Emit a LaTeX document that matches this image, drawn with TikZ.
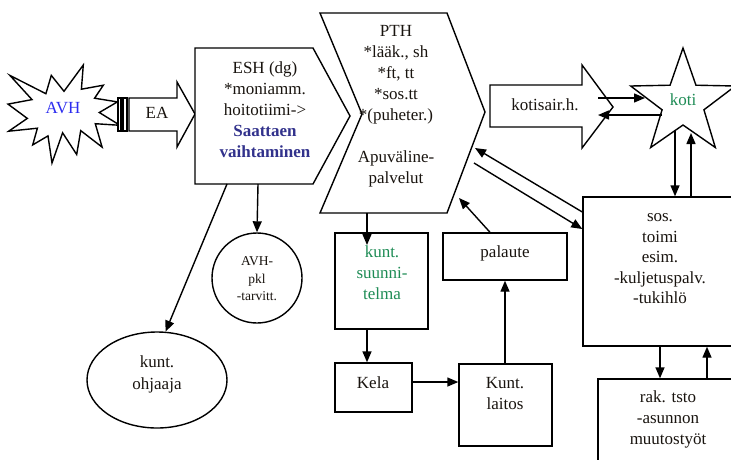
\documentclass[tikz,border=0pt]{standalone}
\usepackage{fontspec}
\setmainfont{Liberation Serif}
\usetikzlibrary{arrows.meta,shapes.geometric}
\definecolor{avhblue}{RGB}{45,45,240}
\definecolor{sblue}{RGB}{50,50,140}
\definecolor{kgreen}{RGB}{30,140,85}
\definecolor{txt}{RGB}{25,20,15}
\begin{document}
\begin{tikzpicture}[x=1pt,y=-1pt,line width=1.4pt,
  arr/.style={-{Triangle[length=11pt,width=9pt]}},
  shp/.style={draw,fill=white,line join=miter},
  box/.style={draw,fill=white,rectangle,inner sep=0pt},
  lbl/.style={text=txt,align=center,font=\fontsize{17}{21}\selectfont,inner sep=0pt},
  small/.style={text=txt,align=center,font=\fontsize{13.5}{17.5}\selectfont,inner sep=0pt}]
\clip (0,0) rectangle (731,459);
\fill[white] (0,0) rectangle (731,459);

% explosion AVH
\draw[shp] (64,91.3) -- (83.3,65) -- (81.4,89.2) -- (103.3,85.2) -- (94.6,98.2) -- (117.4,101.9) -- (99.3,112.5) -- (120,125.3) -- (95.3,123.7) -- (102.1,147.1) -- (80.7,130.6) -- (76.7,154.5) -- (62.6,132.8) -- (52,163) -- (48,135.9) -- (32.7,144.9) -- (37.4,128.2) -- (8.7,131.2) -- (27.3,118.4) -- (8,104.1) -- (32,99.6) -- (9.9,75.4) -- (45.9,93.7) -- (51.3,75.4) -- cycle;
\node[lbl,text=avhblue] (avh) at (63,108) {AVH};

% striped arrow EA
\draw[shp] (118,98) rectangle (121,131);
\draw[shp] (123,98) rectangle (127,131);
\draw[shp] (129,98) -- (177,98) -- (177,82) -- (195,114) -- (177,147) -- (177,131) -- (129,131) -- cycle;
\node[lbl] (ea) at (157,113) {EA};

% ESH pentagon
\draw[shp] (195,48) -- (313,48) -- (350,116) -- (313,184) -- (195,184) -- cycle;
\node[lbl] (esh) at (265,110) {ESH (dg)\\*moniamm.\\hoitotiimi->\\{\bfseries\color{sblue}Saattaen}\\{\bfseries\color{sblue}vaihtaminen}};
\coordinate (eshb1) at (227,184);
\coordinate (eshb2) at (258,184);

% PTH chevron
\draw[shp] (320,13) -- (447,13) -- (485,112) -- (447,213) -- (320,213) -- (362,114) -- cycle;
\node[lbl] (pth) at (396,106) {PTH\\*lääk., sh\\*ft, tt\\*sos.tt\\*(puheter.)\\[21pt]Apuväline-\\palvelut};
\coordinate (pthb) at (367,213);
\coordinate (ptha) at (459,198);
\coordinate (pthc) at (475,148);
\coordinate (pthd) at (474,163);

% kotisair.h. arrow
\draw[shp] (490,85) -- (582,85) -- (582,65) -- (613,107) -- (582,148) -- (582,127) -- (490,127) -- cycle;
\node[lbl] (kh) at (545,105) {kotisair.h.};
\coordinate (kha) at (598,98);
\coordinate (khb) at (598,115);

% star koti
\node[star,star points=5,star point ratio=2.5,minimum size=110pt,inner sep=0pt,draw,fill=white] (star) at (683,103) {};
\node[lbl,text=kgreen] (koti) at (683,100) {koti};
\coordinate (kotia) at (645,98);
\coordinate (kotib) at (662,115);
\coordinate (kotic) at (675,130);
\coordinate (kotid) at (691,133);

% boxes
\node[box,minimum width=93pt,minimum height=96pt] (suun) at (381.5,281) {};
\node[lbl,text=kgreen] (suunt) at (382,273) {kunt.\\suunni-\\telma};
\coordinate (suuntip) at (367,245);
\node[box,minimum width=124pt,minimum height=47pt] (pal) at (505,256.5) {};
\node[lbl] (palt) at (505,253) {palaute};
\node[box,minimum width=77pt,minimum height=49pt] (kela) at (373.5,387.5) {};
\node[lbl] (kelat) at (373,383) {Kela};
\node[box,minimum width=93pt,minimum height=82pt] (lait) at (505.5,405) {};
\node[lbl] (laitt) at (505,394) {Kunt.\\laitos};
\node[box,minimum width=200pt,minimum height=149pt] (sos) at (683,271.5) {};
\node[lbl,font=\fontsize{17}{20.5}\selectfont] (sost) at (660,259) {sos.\\toimi\\esim.\\-kuljetuspalv.\\-tukihlö};
\node[box,minimum width=200pt,minimum height=120pt] (rak) at (698,439) {};
\node[lbl] (rakt) at (668,419) {rak. tsto\\-asunnon\\muutostyöt};

% circle and ellipse
\node[circle,draw,fill=white,minimum size=90pt,inner sep=0pt] (pkl) at (257,278) {};
\node[small] (pklt) at (257,279) {AVH-\\pkl\\-tarvitt.};
\node[ellipse,draw,fill=white,minimum width=140pt,minimum height=96pt,inner sep=0pt] (ohj) at (157,380) {};
\node[lbl,font=\fontsize{17}{22}\selectfont] (ohjt) at (157,374) {kunt.\\ohjaaja};

% connectors
\draw[arr] (eshb2) -- (pkl.north);
\draw[arr] (eshb1) -- (ohj.80);
\draw[arr] (pthb) -- (suuntip);
\draw[arr] (suun.south -| 367,0) -- (kela.north -| 367,0);
\draw[arr] (kela.east |- 0,382) -- (lait.west |- 0,382);
\draw[arr] (lait.north -| 505,0) -- (pal.south -| 505,0);
\draw[arr] (pal.north -| 490,0) -- (ptha);
\draw[arr] (sos.west |- 0,212) -- (pthc);
\draw[arr] (pthd) -- (sos.west |- 0,229);
\draw[arr] (kha) -- (kotia);
\draw[arr] (kotib) -- (khb);
\draw[arr] (kotic) -- (sos.north -| 675,0);
\draw[arr] (sos.north -| 691,0) -- (kotid);
\draw[arr] (sos.south -| 660,0) -- (rak.north -| 660,0);
\draw[arr] (rak.north -| 707,0) -- (sos.south -| 707,0);
\end{tikzpicture}
\end{document}
